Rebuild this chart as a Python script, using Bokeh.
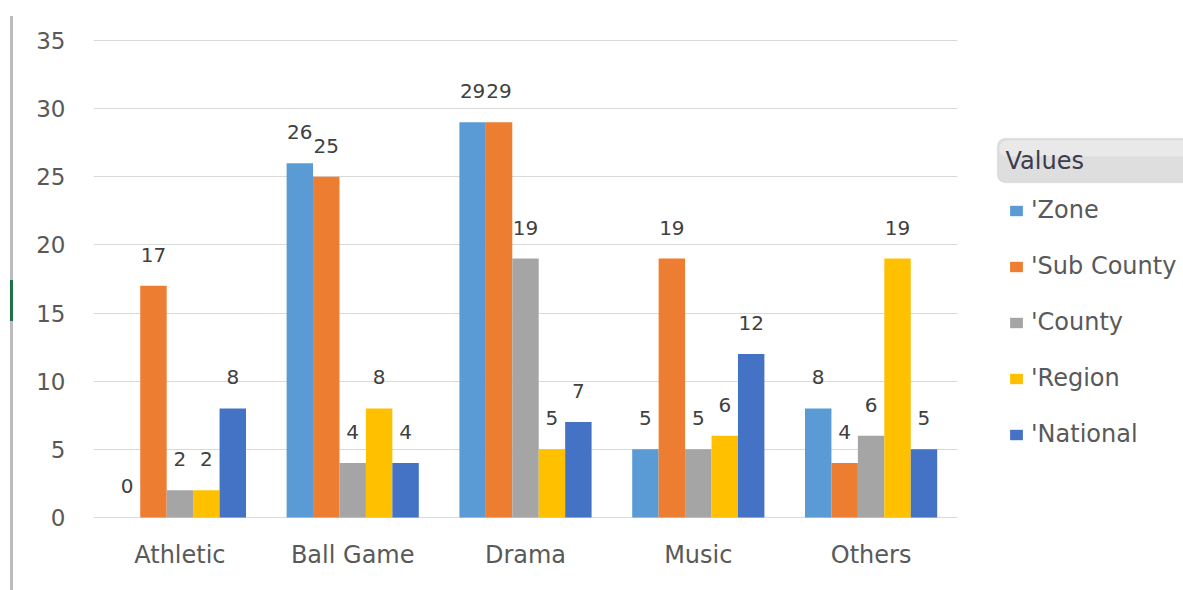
from bokeh.plotting import figure
from bokeh.models import (Range1d, ColumnDataSource, LabelSet, Legend, LegendItem,
                          FixedTicker, BoxAnnotation, Label, Div)
from bokeh.layouts import row
from bokeh.core.properties import value
from bokeh.embed import file_html
from bokeh.resources import INLINE

categories = ["Athletic", "Ball Game", "Drama", "Music", "Others"]
series_names = ["'Zone", "'Sub County", "'County", "'Region", "'National"]
zone = [0, 26, 29, 5, 8]
sub_county = [17, 25, 29, 19, 4]
county = [2, 4, 19, 5, 6]
region = [2, 8, 5, 6, 19]
national = [8, 4, 7, 12, 5]
y_ticks = [0, 5, 10, 15, 20, 25, 30, 35]
legend_title = "Values"

series_values = [zone, sub_county, county, region, national]
colors = ["#5B9BD5", "#ED7D31", "#A5A5A5", "#FFC000", "#4472C4"]
FONT = "DejaVu Sans"

STRIP_W = 14
MAIN_W = 1183 - STRIP_W
H = 590
LEFT = 93 - STRIP_W
CAT_PX = 172.8
frame_w = MAIN_W - LEFT
n_cat = len(categories)
centers = [i + 0.5 for i in range(n_cat)]

p = figure(x_range=Range1d(0, frame_w / CAT_PX),
           y_range=Range1d(-0.075, 35.075),
           width=MAIN_W, height=H, output_backend="svg", toolbar_location=None,
           min_border_left=LEFT, min_border_right=0, min_border_top=39, min_border_bottom=72)
p.outline_line_color = None
p.background_fill_color = "white"
p.border_fill_color = "white"

bar_w = 0.153
renderers = []
for i, (name, vals, col) in enumerate(zip(series_names, series_values, colors)):
    off = (i - 2) * bar_w
    src = ColumnDataSource(data=dict(x=[c + off for c in centers], val=vals,
                                     lab=[str(v) for v in vals]))
    r = p.vbar(x="x", top="val", width=bar_w, source=src, fill_color=col, line_color=None)
    renderers.append(r)
    labels = LabelSet(x="x", y="val", text="lab", source=src,
                      text_align="center", text_baseline="middle", y_offset=31,
                      text_font=value(FONT), text_font_size="20px", text_color="#404040")
    p.add_layout(labels)

# axes
p.yaxis.ticker = FixedTicker(ticks=y_ticks)
p.xaxis.ticker = FixedTicker(ticks=centers)
p.xaxis.major_label_overrides = {c: name for c, name in zip(centers, categories)}
for ax in (p.xaxis[0], p.yaxis[0]):
    ax.axis_line_color = None
    ax.major_tick_line_color = None
    ax.minor_tick_line_color = None
    ax.major_tick_out = 0
    ax.major_tick_in = 0
    ax.minor_tick_out = 0
    ax.minor_tick_in = 0
    ax.major_label_text_font = FONT
    ax.major_label_text_color = "#595959"
p.yaxis.major_label_text_font_size = "23px"
p.yaxis.major_label_standoff = 28
p.xaxis.major_label_text_font_size = "24px"
p.xaxis.major_label_standoff = 22
p.xgrid.grid_line_color = None
p.ygrid.grid_line_color = "#d9d9d9"
p.ygrid.grid_line_width = 1
p.ygrid.cross_bounds = (0, n_cat)

legend = Legend(items=[LegendItem(label=n, renderers=[r]) for n, r in zip(series_names, renderers)],
                location=(915, 70), orientation="vertical",
                glyph_width=16, glyph_height=13, label_standoff=7,
                label_height=20, spacing=28, padding=0, margin=0,
                border_line_color=None, background_fill_alpha=0,
                label_text_font=FONT, label_text_font_size="24px", label_text_color="#595959")
p.add_layout(legend)

# legend title box
p.add_layout(BoxAnnotation(left=997 - STRIP_W, right=1200, top=138, bottom=182,
                           left_units="canvas", right_units="canvas",
                           top_units="canvas", bottom_units="canvas",
                           fill_color="#dedede", fill_alpha=1, line_color="#c4c4c4",
                           line_width=1.5, border_radius=8))
p.add_layout(BoxAnnotation(left=999 - STRIP_W, right=1200, top=140, bottom=156,
                           left_units="canvas", right_units="canvas",
                           top_units="canvas", bottom_units="canvas",
                           fill_color="#e9e9e9", fill_alpha=1, line_color=None,
                           border_radius=7))
p.add_layout(Label(x=1005 - STRIP_W, y=160, x_units="canvas", y_units="canvas", text=legend_title,
                   text_font=FONT, text_font_size="24px", text_color="#3c3c4c",
                   text_baseline="middle", text_align="left"))

# left edge strip (window edge)
strip_html = ('<div style="margin:16px 0 0 10px;width:3px;height:574px;background:#bcbcbc;'
              'position:relative"><div style="position:absolute;top:264px;left:0;width:3px;'
              'height:41px;background:#217346"></div></div>')
strip = Div(text=strip_html, width=STRIP_W, height=H, margin=0)

layout = row(strip, p, spacing=0)
open("out.html", "w").write(file_html(layout, INLINE))
